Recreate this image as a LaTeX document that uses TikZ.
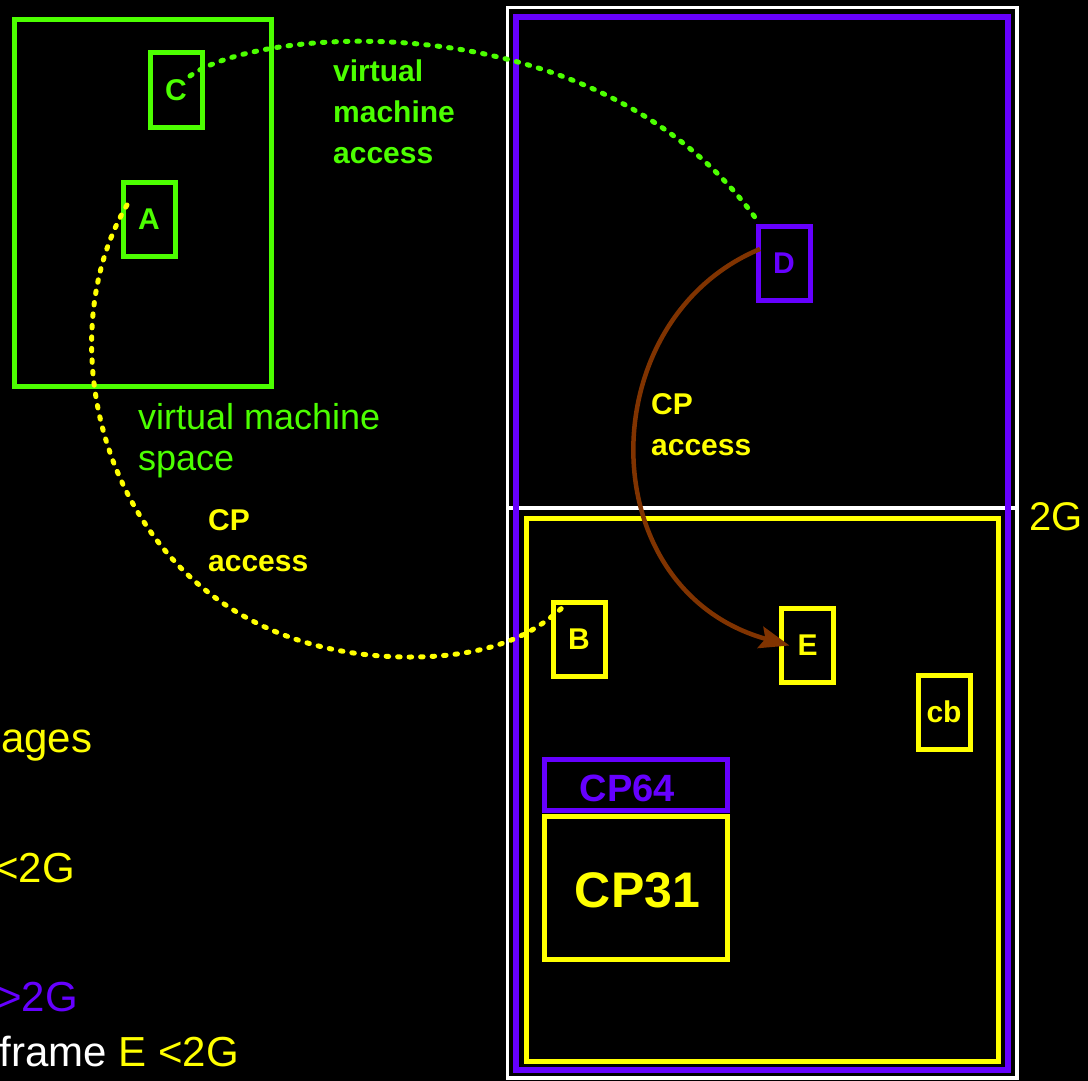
\documentclass[tikz,border=0pt]{standalone}
\usepackage{fontspec}
\setmainfont{Liberation Sans}
\usetikzlibrary{calc,arrows.meta}
\definecolor{vmgreen}{RGB}{76,255,0}
\definecolor{cppurple}{RGB}{102,0,255}
\definecolor{cpyellow}{RGB}{255,255,0}
\definecolor{cpbrown}{RGB}{128,51,0}
\begin{document}
\begin{tikzpicture}[x=1pt,y=-1pt,
  page/.style={draw, line width=5pt, minimum width=52pt, minimum height=74pt,
    inner sep=0pt, outer sep=0pt, font=\fontsize{30}{36}\selectfont\bfseries},
  area/.style={draw, inner sep=0pt, outer sep=0pt},
  blabel/.style={font=\fontsize{30}{41}\selectfont\bfseries, align=left, anchor=base west, inner sep=0pt},
  rlabel/.style={font=\fontsize{36}{41}\selectfont, align=left, anchor=base west, inner sep=0pt},
  side/.style={font=\fontsize{42}{48}\selectfont, anchor=base east, inner sep=0pt},
  dots/.style={line width=5pt, line cap=round, dash pattern=on 2.5pt off 9pt},
]
\useasboundingbox (0,0) rectangle (1088,1081);
\fill[black] (0,0) rectangle (1088,1081);
\clip (0,0) rectangle (1088,1081);

% virtual machine space
\node[area, draw=vmgreen, line width=5pt, minimum width=257pt, minimum height=366pt] (vm) at (142.5,203) {};
\node[rlabel, text=vmgreen] (vmlabel) at (138,470) {virtual machine\\space};
\node[page, draw=vmgreen, text=vmgreen] (C) at (176,90) {C};
\node[page, draw=vmgreen, text=vmgreen] (A) at (149,219) {A};

% real memory
\node[area, draw=white, line width=3.5pt, minimum width=509.5pt, minimum height=1070.5pt] (mem) at (762.25,542.75) {};
\coordinate (split) at (507.5,508);
\draw[white, line width=3.5pt] (split) -- (split -| mem.east);
\node[area, draw=cppurple, line width=5.5pt, minimum width=492pt, minimum height=1053pt] (all) at (762,543.5) {};
\node[area, draw=cpyellow, line width=5pt, minimum width=472pt, minimum height=543pt] (low) at (762,789.5) {};
\node[font=\fontsize{40}{48}\selectfont, text=cpyellow, anchor=base west, inner sep=0pt] (twoG) at (1029,530) {2G};

\node[page, draw=cppurple, text=cppurple] (D) at (784,263.5) {D};
\node[page, draw=cpyellow, text=cpyellow] (B) at (579,639) {B};
\node[page, draw=cpyellow, text=cpyellow] (E) at (807.5,645.5) {E};
\node[page, draw=cpyellow, text=cpyellow] (cb) at (944,712) {cb};

\node[area, draw=cppurple, line width=5pt, minimum width=183.5pt, minimum height=51pt] (cp64) at (635.75,784.5) {};
\node[font=\fontsize{38}{44}\selectfont\bfseries, text=cppurple, anchor=base, inner sep=0pt] (cp64t) at (627.5,801) {CP64};
\node[area, draw=cpyellow, line width=5pt, minimum width=183.5pt, minimum height=143pt] (cp31) at (635.75,887.5) {};
\node[font=\fontsize{50}{58}\selectfont\bfseries, text=cpyellow, anchor=base, inner sep=0pt] (cp31t) at (637.5,907) {CP31};

% labels (base anchor = last line)
\node[blabel, text=vmgreen] (vmacc) at (333,164) {virtual\\machine\\access};
\node[blabel, text=cpyellow] (cpacc1) at (651,455) {CP\\access};
\node[blabel, text=cpyellow] (cpacc2) at (208,571) {CP\\access};

% cut-off texts at the left edge
\node[side, text=cpyellow] (t1) at (92.5,752) {ages};
\node[side, text=cpyellow] (t2) at (75,882) {<2G};
\node[side, text=cppurple] (t3) at (78,1011) {>2G};
\node[side, text=white] (t4) at (239,1066) {frame \textcolor{cpyellow}{E <2G}};

% connectors
\coordinate (cstart) at ($(C.east)+(-12,-14)$);
\coordinate (dend) at ($(D.north west)+(0,-5)$);
\draw[dots, vmgreen] (cstart) .. controls (260,25) and (600,0) .. (dend);

\coordinate (astart) at ($(A.west)+(4,-14)$);
\coordinate (bend) at ($(B.north west)+(10,5)$);
\draw[dots, cpyellow] (astart) .. controls (35,360) and (120,657) .. (410,657)
  .. controls (500,657) and (540,628) .. (bend);

\coordinate (dstart) at ($(D.west)+(2,-14.5)$);
\coordinate (etip) at ($(E.west)+(8,0)$);
\draw[cpbrown, line width=4.5pt, -{Stealth[length=30pt,width=22pt,inset=5pt]}]
  (dstart) .. controls (590,320) and (590,590) .. (etip);
\end{tikzpicture}
\end{document}
